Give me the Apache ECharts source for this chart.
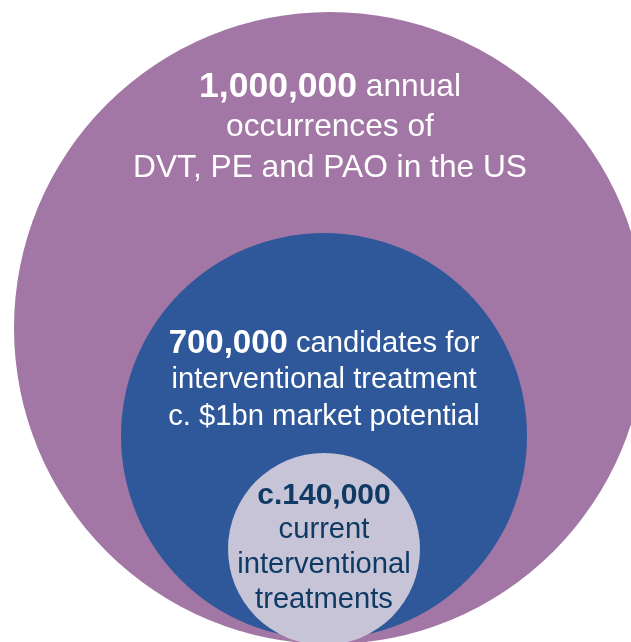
<!DOCTYPE html>
<html>
<head>
<meta charset="utf-8">
<script src="https://cdn.jsdelivr.net/npm/echarts@6/dist/echarts.min.js"></script>
<style>
html,body{margin:0;padding:0;background:#ffffff;}
#chart{width:631px;height:642px;}
</style>
</head>
<body>
<div id="chart"></div>
<script>
// ---- data ----
const headlines = ['1,000,000', '700,000', 'c.140,000'];
const descriptions = [
  ['annual', 'occurrences of', 'DVT, PE and PAO in the US'],
  ['candidates for', 'interventional treatment', 'c. $1bn market potential'],
  ['', 'current', 'interventional', 'treatments']
];
const values = [1000000, 700000, 140000];
// circle geometry (axis units)
const circleX = [330, 324, 324];
const circleY = [328, 436, 549];
const circleR = [316, 203, 96];

// ---- styles ----
const fills = ['#A277A6', '#2E5899', '#C6C4D6'];
const textColors = ['#ffffff', '#ffffff', '#0F3A64'];
const boldSizes = [35.5, 33, 30];
const regSizes = [31.7, 29.2, 29.2];
const lineHeights = [40.5, 36.5, 34.8];
const textTops = [67, 325.5, 478];
const FONT = '"Liberation Sans", Arial, sans-serif';

const seriesData = values.map((v, i) => ({ value: [circleX[i], circleY[i], circleR[i], v] }));

function buildText(i) {
  const d = descriptions[i];
  if (i === 2) {
    return '{b|' + headlines[i] + '}\n' + d.slice(1).map(s => '{r|' + s + '}').join('\n');
  }
  return '{b|' + headlines[i] + '}{r| ' + d[0] + '}\n' + d.slice(1).map(s => '{r|' + s + '}').join('\n');
}

const chart = echarts.init(document.getElementById('chart'), null, { renderer: 'canvas' });
chart.setOption({
  animation: false,
  grid: { left: 0, right: 0, top: 0, bottom: 0 },
  xAxis: { type: 'value', min: 0, max: 631, show: false },
  yAxis: { type: 'value', min: 0, max: 642, inverse: true, show: false },
  series: [{
    type: 'custom',
    coordinateSystem: 'cartesian2d',
    data: seriesData,
    renderItem: function (params, api) {
      const i = params.dataIndex;
      const c = api.coord([api.value(0), api.value(1)]);
      const r = api.size([api.value(2), 0])[0];
      const top = api.coord([0, textTops[i]])[1];
      return {
        type: 'group',
        children: [
          { type: 'circle', shape: { cx: c[0], cy: c[1], r: r }, style: { fill: fills[i] } },
          {
            type: 'text', z2: 10,
            style: {
              x: c[0], y: top,
              text: buildText(i),
              align: 'center', verticalAlign: 'top',
              fill: textColors[i],
              fontFamily: FONT,
              rich: {
                b: { fontSize: boldSizes[i], fontWeight: 'bold', fill: textColors[i], fontFamily: FONT, lineHeight: lineHeights[i] },
                r: { fontSize: regSizes[i], fill: textColors[i], fontFamily: FONT, lineHeight: lineHeights[i] }
              }
            }
          }
        ]
      };
    }
  }]
});
</script>
</body>
</html>
